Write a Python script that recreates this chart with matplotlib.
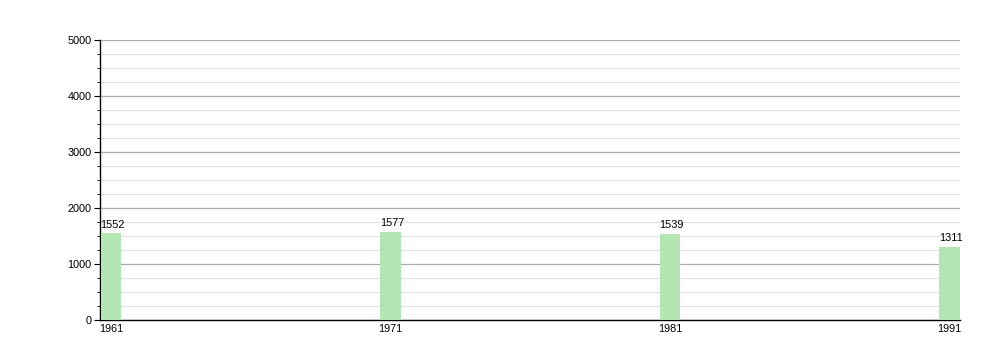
import matplotlib
matplotlib.use("Agg")
import matplotlib.pyplot as plt
from matplotlib.ticker import MultipleLocator

years = [1961, 1971, 1981, 1991]
population = [1552, 1577, 1539, 1311]

plt.rcParams['font.family'] = ['Liberation Sans', 'DejaVu Sans']
fig = plt.figure(figsize=(10, 3.6), dpi=100)
ax = fig.add_axes([0.1, 1 - 320/360, 0.86, 280/360])

bw = 0.72
ax.bar(years, population, width=bw, color='#b3e6b3', zorder=3)
for x, v in zip(years, population):
    ax.text(x + 0.05, v + 60, str(v), ha='center', va='bottom', fontsize=7.8, zorder=4)

ax.set_xlim(years[0] - 0.394, years[-1] + 0.376)
ax.set_ylim(0, 5000)
ax.set_xticks(years)
ax.set_xticklabels([str(y) for y in years])
ax.yaxis.set_major_locator(MultipleLocator(1000))
ax.yaxis.set_minor_locator(MultipleLocator(250))
ax.grid(axis='y', which='major', color='#aaaaaa', linewidth=0.9, zorder=0)
ax.grid(axis='y', which='minor', color='#e2e2e2', linewidth=0.8, zorder=0)
for s in ['top', 'right']:
    ax.spines[s].set_visible(False)
ax.spines['left'].set_linewidth(1)
ax.spines['bottom'].set_linewidth(1)
ax.tick_params(axis='y', which='major', length=4, labelsize=7.8, pad=2)
ax.tick_params(axis='y', which='minor', length=2)
ax.tick_params(axis='x', length=0, labelsize=7.8, pad=3)
fig.savefig('out.png', dpi=100)
